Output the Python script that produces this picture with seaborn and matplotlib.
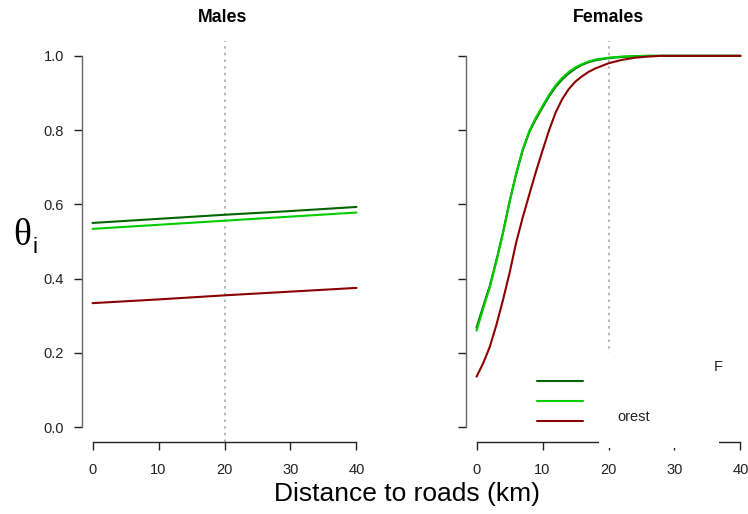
import numpy as np
import pandas as pd
import matplotlib
matplotlib.use("Agg")
import matplotlib.pyplot as plt
from matplotlib.lines import Line2D
from matplotlib.patches import Rectangle
import seaborn as sns

sns.set_theme(style="white")
plt.rcParams["font.family"] = ["Liberation Sans", "DejaVu Sans"]
plt.rcParams["text.color"] = "black"

# Predicted occupancy (theta) versus distance to roads
male_dist = [0, 10, 20, 30, 40]
male_dark = [0.550, 0.561, 0.572, 0.582, 0.593]
male_light = [0.534, 0.545, 0.556, 0.567, 0.578]
male_red = [0.334, 0.344, 0.355, 0.365, 0.375]

female_dist = [0, 1, 2, 3, 4, 5, 6, 7, 8, 9, 10, 11, 12, 13, 14, 15, 16, 17,
               18, 20, 22, 24, 26, 28, 30, 35, 40]
female_dark = [0.268, 0.325, 0.380, 0.449, 0.524, 0.607, 0.682, 0.746, 0.795,
               0.830, 0.861, 0.891, 0.917, 0.937, 0.953, 0.966, 0.976, 0.983,
               0.988, 0.994, 0.997, 0.999, 1.0, 1.0, 1.0, 1.0, 1.0]
female_light = [0.260, 0.319, 0.376, 0.446, 0.522, 0.606, 0.682, 0.748, 0.798,
                0.834, 0.865, 0.895, 0.921, 0.941, 0.957, 0.969, 0.978, 0.985,
                0.990, 0.995, 0.998, 0.999, 1.0, 1.0, 1.0, 1.0, 1.0]
female_red = [0.136, 0.172, 0.216, 0.275, 0.342, 0.415, 0.497, 0.565, 0.627,
              0.688, 0.745, 0.800, 0.848, 0.884, 0.911, 0.931, 0.945, 0.957,
              0.966, 0.980, 0.989, 0.995, 0.998, 1.0, 1.0, 1.0, 1.0]

groups = ["dark", "light", "red"]
palette = {"dark": "#006400", "light": "#00CD00", "red": "#8B0000"}

x_ticks = [0, 10, 20, 30, 40]
y_ticks = [0.0, 0.2, 0.4, 0.6, 0.8, 1.0]
y_ticklabels = ["0.0", "0.2", "0.4", "0.6", "0.8", "1.0"]


def long_frame(dist, series):
    rows = []
    for g, vals in zip(groups, series):
        for d, v in zip(dist, vals):
            rows.append({"dist": d, "theta": v, "group": g})
    return pd.DataFrame(rows)


males = long_frame(male_dist, [male_dark, male_light, male_red])
females = long_frame(female_dist, [female_dark, female_light, female_red])

W, H = 748, 514
fig = plt.figure(figsize=(W / 100, H / 100), dpi=100)
fig.patch.set_facecolor("white")


def px(x, y):
    return x / W, 1 - y / H


ax1 = fig.add_axes([82 / W, (H - 442) / H, 285 / W, 401 / H])
ax2 = fig.add_axes([466 / W, (H - 442) / H, 285 / W, 401 / H])

for ax, df, show_y in [(ax1, males, True), (ax2, females, False)]:
    ax.axvline(20, color="#aaaaaa", lw=1.2, ls=(0, (1.5, 2.5)), zorder=1)
    sns.lineplot(data=df, x="dist", y="theta", hue="group", hue_order=groups,
                 palette=palette, lw=1.5, legend=False, ax=ax, zorder=3)
    ax.set_xlim(-1.6, 41.6)
    ax.set_ylim(-0.04, 1.04)
    ax.set_facecolor("white")
    ax.set_xlabel("")
    ax.set_ylabel("")
    for s in ["top", "right"]:
        ax.spines[s].set_visible(False)
    ax.spines["left"].set_bounds(0, 1)
    ax.spines["bottom"].set_bounds(0, 40)
    ax.spines["left"].set_color("#666666")
    ax.spines["bottom"].set_color("#222222")
    ax.spines["left"].set_linewidth(1.0)
    ax.spines["bottom"].set_linewidth(1.0)
    ax.set_xticks(x_ticks)
    ax.set_xticklabels([str(t) for t in x_ticks])
    ax.set_yticks(y_ticks)
    ax.set_yticklabels(y_ticklabels if show_y else [])
    ax.tick_params(axis="x", direction="out", length=5.8, width=1.0,
                   color="#222222", pad=9.5, labelsize=10.5, labelcolor="#222222",
                   bottom=True)
    ax.tick_params(axis="y", direction="out", length=5.8, width=1.0,
                   color="#222222", pad=7, labelsize=10.5, labelcolor="#222222",
                   left=True)
    ax.grid(False)

fig.text(*px(222.5, 18), "Males", ha="center", va="center",
         fontsize=12.8, fontweight="bold")
fig.text(*px(608, 18), "Females", ha="center", va="center",
         fontsize=12.8, fontweight="bold")
fig.text(*px(407, 494), "Distance to roads (km)", ha="center", va="center",
         fontsize=19)

# Axis symbol: upright theta with a sans-serif subscript i
fig.text(*px(22, 236), "θ", ha="center", va="center", fontsize=27,
         family=["Liberation Serif", "DejaVu Serif"])
fig.text(*px(35.5, 247), "i", ha="center", va="center", fontsize=16)

# Legend key lines
for yy, g in zip([381, 401, 420.5], groups):
    x0, y0 = px(537, yy)
    x1, _ = px(583, yy)
    fig.add_artist(Line2D([x0, x1], [y0, y0], color=palette[g], lw=1.5,
                          transform=fig.transFigure, zorder=5))

# Label panel
rx, ry = px(599, 447.5)
fig.add_artist(Rectangle((rx, ry), 120 / W, 94.5 / H, transform=fig.transFigure,
                         facecolor="white", edgecolor="none", zorder=6))
fig.text(*px(714, 367), "F", ha="left", va="center", fontsize=10.5, zorder=7,
         color="#222222")
fig.text(*px(617, 417), "orest", ha="left", va="center", fontsize=10.5,
         zorder=7, color="#222222")

fig.savefig("out.png", dpi=100, facecolor="white")
